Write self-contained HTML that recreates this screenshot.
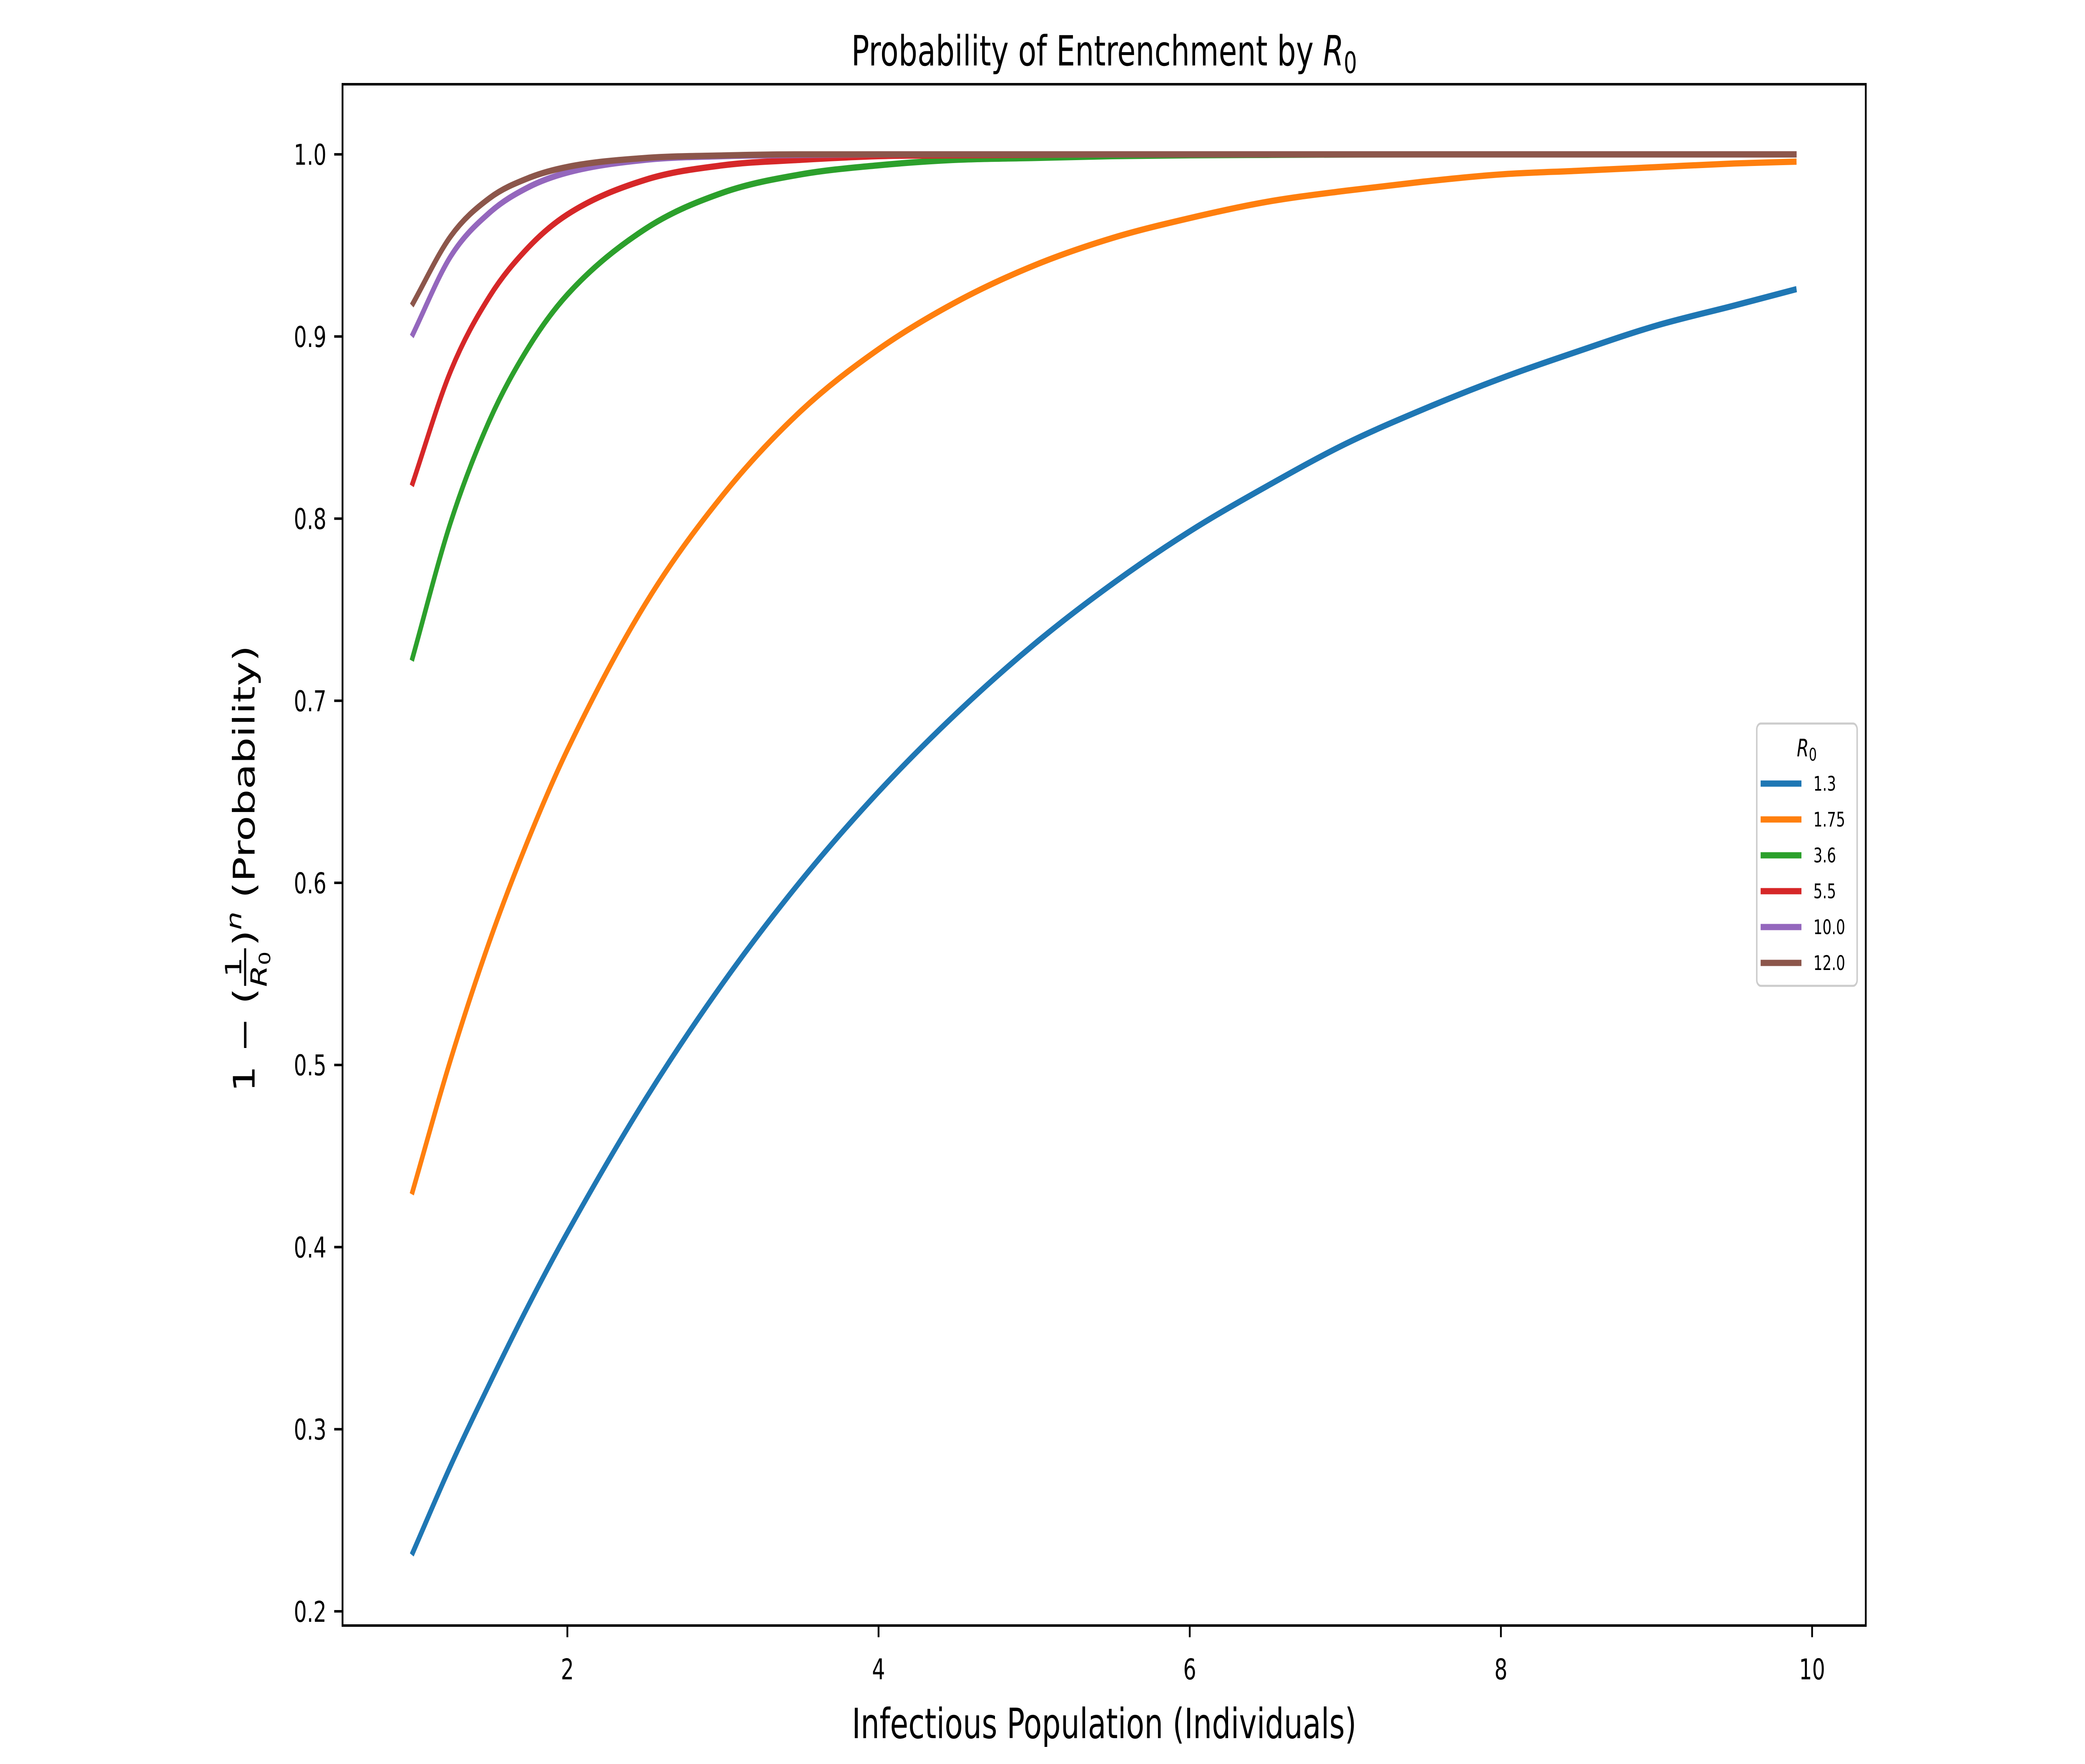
<!DOCTYPE html>
<html><head><meta charset="utf-8"><style>
html,body{margin:0;padding:0;background:#fff;overflow:hidden;width:100%;height:100%}
svg{display:block;font-family:"DejaVu Sans","Liberation Sans",sans-serif;width:100vw;height:100vh}
</style></head><body>
<svg id="chart" viewBox="0 0 7000 4230" preserveAspectRatio="none" xmlns="http://www.w3.org/2000/svg">
<rect width="7000" height="4230" fill="#fff"/>
<g id="plot"></g>
<text x="3707" y="157" font-size="100" text-anchor="middle">Probability of Entrenchment by <tspan font-style="italic">R</tspan><tspan font-size="70" dy="18">0</tspan></text>
<text x="3707" y="4168" font-size="100" text-anchor="middle">Infectious Population (Individuals)</text>
<g transform="translate(855,2264) rotate(-90)">
<text x="-105" y="0" font-size="100" text-anchor="end">1 − (</text>
<text x="-55" y="-45" font-size="75" text-anchor="middle">1</text>
<line x1="-100" y1="-32" x2="-10" y2="-32" stroke="#000" stroke-width="7"/>
<text x="-60" y="40" font-size="75" text-anchor="middle" font-style="italic">R<tspan font-size="52" dy="12" font-style="normal">0</tspan></text>
<text x="-5" y="0" font-size="100">)<tspan font-size="70" dy="-45" font-style="italic">n</tspan><tspan dy="45"> (Probability)</tspan></text>
</g>
<g>
<rect x="5898" y="1735" width="337" height="629" rx="14" fill="#fff" stroke="#ccc" stroke-width="5"/>
<text x="6066" y="1814" font-size="58" text-anchor="middle" font-style="italic">R<tspan font-size="42" dy="10" font-style="normal">0</tspan></text>
<g id="legend-entries"></g>
</g>
</svg>
<script>
const xs = [1,1.25,1.5,1.75,2,2.5,3,3.5,4,4.5,5,5.5,6,6.5,7,7.5,8,8.5,9,9.5,9.9];
const r0Labels = ["1.3","1.75","3.6","5.5","10.0","12.0"];
const colors = ["#1f77b4","#ff7f0e","#2ca02c","#d62728","#9467bd","#8c564b"];
const s13 = [0.231,0.280,0.325,0.368,0.408,0.481,0.545,0.601,0.650,0.693,0.731,0.764,0.793,0.818,0.841,0.860,0.877,0.892,0.906,0.917,0.926];
const s175 = [0.429,0.503,0.568,0.624,0.673,0.753,0.813,0.859,0.893,0.919,0.939,0.954,0.965,0.974,0.980,0.985,0.989,0.991,0.993,0.995,0.996];
const s36 = [0.722,0.798,0.854,0.894,0.923,0.959,0.979,0.989,0.994,0.997,0.998,0.999,0.9995,0.9997,0.9999,1,1,1,1,1,1];
const s55 = [0.818,0.881,0.922,0.949,0.967,0.986,0.994,0.997,0.999,0.9995,0.9998,1,1,1,1,1,1,1,1,1,1];
const s10 = [0.900,0.944,0.968,0.982,0.990,0.997,0.999,0.9997,1,1,1,1,1,1,1,1,1,1,1,1,1];
const s12 = [0.917,0.955,0.976,0.987,0.9931,0.998,0.9994,1,1,1,1,1,1,1,1,1,1,1,1,1,1];
const series = [s13,s175,s36,s55,s10,s12];
const xTicks = [2,4,6,8,10];
const yTicks = [0.2,0.3,0.4,0.5,0.6,0.7,0.8,0.9,1.0];

const L=1150,R=6264,T=202,B=3898;
const xmin=0.555,xmax=10.345,ymin=0.1922,ymax=1.0385;
const sx=v=>L+(v-xmin)/(xmax-xmin)*(R-L);
const sy=v=>B-(v-ymin)/(ymax-ymin)*(B-T);
const NS="http://www.w3.org/2000/svg";
const plot=document.getElementById('plot');
function mk(tag,attrs,parent){const e=document.createElementNS(NS,tag);for(const k in attrs)e.setAttribute(k,attrs[k]);(parent||plot).appendChild(e);return e;}

function monoPath(px,py){
  const n=px.length,d=[],m=new Array(n);
  for(let i=0;i<n-1;i++)d.push((py[i+1]-py[i])/(px[i+1]-px[i]));
  m[0]=d[0];m[n-1]=d[n-2];
  for(let i=1;i<n-1;i++){m[i]=(d[i-1]*d[i]<=0)?0:(d[i-1]+d[i])/2;}
  for(let i=0;i<n-1;i++){if(d[i]===0){m[i]=0;m[i+1]=0;continue;}const a=m[i]/d[i],b=m[i+1]/d[i],h=a*a+b*b;if(h>9){const t=3/Math.sqrt(h);m[i]=t*a*d[i];m[i+1]=t*b*d[i];}}
  let p="M"+px[0]+","+py[0];
  for(let i=0;i<n-1;i++){const h=(px[i+1]-px[i])/3;p+=" C"+(px[i]+h)+","+(py[i]+m[i]*h)+" "+(px[i+1]-h)+","+(py[i+1]-m[i+1]*h)+" "+px[i+1]+","+py[i+1];}
  return p;
}

series.forEach((s,k)=>{
  const px=xs.map(sx),py=s.map(sy);
  const p=mk('path',{d:monoPath(px,py),fill:'none',stroke:colors[k],'stroke-width':15,'stroke-linejoin':'round'});
  
  
});

xTicks.forEach(t=>{
  const x=sx(t);
  const l=mk('line',{x1:x,y1:B,x2:x,y2:B+28,stroke:'#000','stroke-width':6});
  
  
  const tx=mk('text',{x:x,y:4027,'font-size':69,'text-anchor':'middle'});
  tx.textContent=t;
  
  
});
yTicks.forEach(t=>{
  const y=sy(t);
  const l=mk('line',{x1:L-28,y1:y,x2:L,y2:y,stroke:'#000','stroke-width':6});
  
  
  const tx=mk('text',{x:1096,y:y+25,'font-size':69,'text-anchor':'end'});
  tx.textContent=t.toFixed(1);
  
  
});
const fr=mk('rect',{x:L,y:T,width:R-L,height:B-T,fill:'none',stroke:'#000','stroke-width':6});



const lg=document.getElementById('legend-entries');
r0Labels.forEach((lab,k)=>{
  const y=1879+k*86;
  const g=mk('g',{},lg);
  
  
  mk('line',{x1:5911,y1:y,x2:6048,y2:y,stroke:colors[k],'stroke-width':15},g);
  const t=mk('text',{x:6088,y:y+17,'font-size':48},g);
  t.textContent=lab;
});
</script>
</body></html>
